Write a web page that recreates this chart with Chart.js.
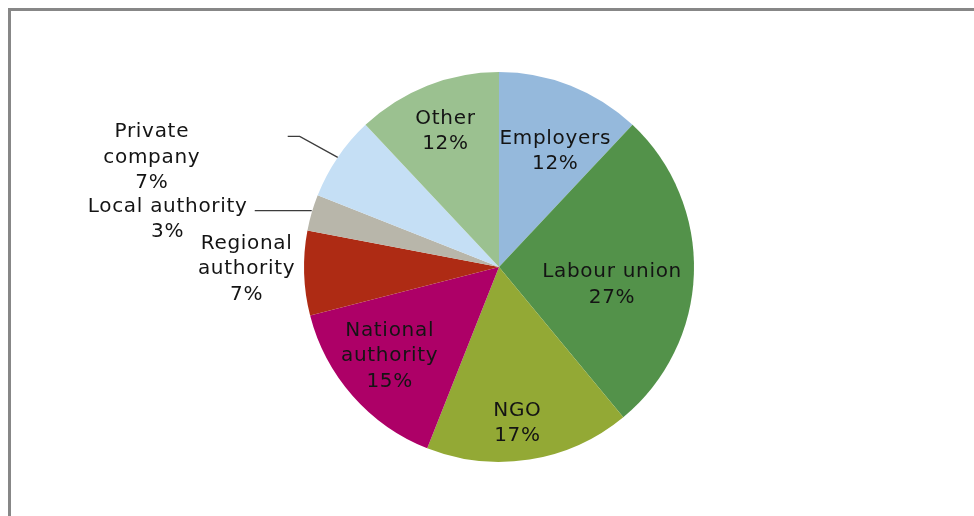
<!DOCTYPE html>
<html>
<head>
<meta charset="utf-8">
<script src="https://cdn.jsdelivr.net/npm/chart.js@4/dist/chart.umd.min.js"></script>
<style>
  html, body { margin: 0; padding: 0; background: #fff; overflow: hidden; }
  #frame { position: absolute; left: 8px; top: 8px; width: 1000px; height: 600px;
           border-left: 3px solid #878787; border-top: 3px solid #878787; }
  #pie { position: absolute; left: 0; top: 0; }
</style>
</head>
<body>
<div id="frame"></div>
<canvas id="pie" width="974" height="516"></canvas>
<script>
// ============================================================
//  DATA
// ============================================================
const categories = ['Employers', 'Labour union', 'NGO', 'National authority',
                    'Regional authority', 'Local authority', 'Private company', 'Other'];
const shares     = [12, 27, 17, 15, 7, 3, 7, 12];

// ============================================================
//  STYLE
// ============================================================
const sliceColors = ['#95b9dc', '#53924a', '#93a935', '#ad0067',
                     '#ae2b14', '#b8b6aa', '#c5dff5', '#9bc190'];

// label placement: f = fraction of radius along the slice's mid angle,
// dx/dy = nudge in px, wrap = break name onto two lines,
// leader = points relative to the slice edge (mid angle)
const labelPlace = [
    { f: 0.70, dx:   6, dy: 11 },
    { f: 0.58, dx:   0, dy: 14 },
    { f: 0.80, dx:  -6, dy:  2 },
    { f: 0.72, dx:  -4, dy: -4, wrap: true },
    { f: 1.30, dx:   1, dy: -6, wrap: true },
    { f: 1.70, dx: -13, dy: 45, leader: [[0, -2], [-57, -2]] },
    { f: 1.70, dx: -73, dy: 77, wrap: true, leader: [[0, 0], [-38, -21], [-50, -21]] },
    { f: 0.76, dx:   1, dy:  2 }
];

const FONT      = '20px "DejaVu Sans", Verdana, sans-serif';
const LINE_H    = 25.5;
const TEXT_COL  = '#141414';
const LEAD_COL  = '#3c3c3c';

const sliceLabels = {
    id: 'sliceLabels',
    afterDatasetsDraw(chart) {
        const ctx   = chart.ctx;
        const meta  = chart.getDatasetMeta(0);
        const total = shares.reduce((a, b) => a + b, 0);
        ctx.save();
        meta.data.forEach(function (arc, i) {
            const p   = arc.getProps(['x', 'y', 'startAngle', 'endAngle', 'outerRadius'], true);
            const mid = (p.startAngle + p.endAngle) / 2;
            const pl  = labelPlace[i];
            const ex  = p.x + Math.cos(mid) * p.outerRadius;
            const ey  = p.y + Math.sin(mid) * p.outerRadius;

            if (pl.leader) {
                ctx.strokeStyle = LEAD_COL;
                ctx.lineWidth = 1.3;
                ctx.beginPath();
                pl.leader.forEach(function (pt, k) {
                    if (k === 0) ctx.moveTo(ex + pt[0], ey + pt[1]);
                    else ctx.lineTo(ex + pt[0], ey + pt[1]);
                });
                ctx.stroke();
            }

            const name  = categories[i];
            const lines = pl.wrap ? name.split(' ') : [name];
            lines.push(Math.round(shares[i] / total * 100) + '%');

            const cx = p.x + Math.cos(mid) * p.outerRadius * pl.f + pl.dx;
            const cy = p.y + Math.sin(mid) * p.outerRadius * pl.f + pl.dy;
            ctx.font = FONT;
            if ('letterSpacing' in ctx) ctx.letterSpacing = '0.7px';
            ctx.fillStyle = TEXT_COL;
            ctx.textAlign = 'center';
            ctx.textBaseline = 'middle';
            const y0 = cy - (lines.length - 1) * LINE_H / 2;
            lines.forEach(function (t, k) { ctx.fillText(t, cx, y0 + k * LINE_H); });
        });
        ctx.restore();
    }
};

new Chart(document.getElementById('pie'), {
    type: 'pie',
    data: {
        labels: categories,
        datasets: [{
            data: shares,
            backgroundColor: sliceColors,
            borderWidth: 0,
            hoverOffset: 0
        }]
    },
    options: {
        responsive: false,
        animation: false,
        devicePixelRatio: 1,
        layout: { padding: { top: 72, bottom: 54, left: 24, right: 0 } },
        plugins: { legend: { display: false }, tooltip: { enabled: false } }
    },
    plugins: [sliceLabels]
});
</script>
</body>
</html>
